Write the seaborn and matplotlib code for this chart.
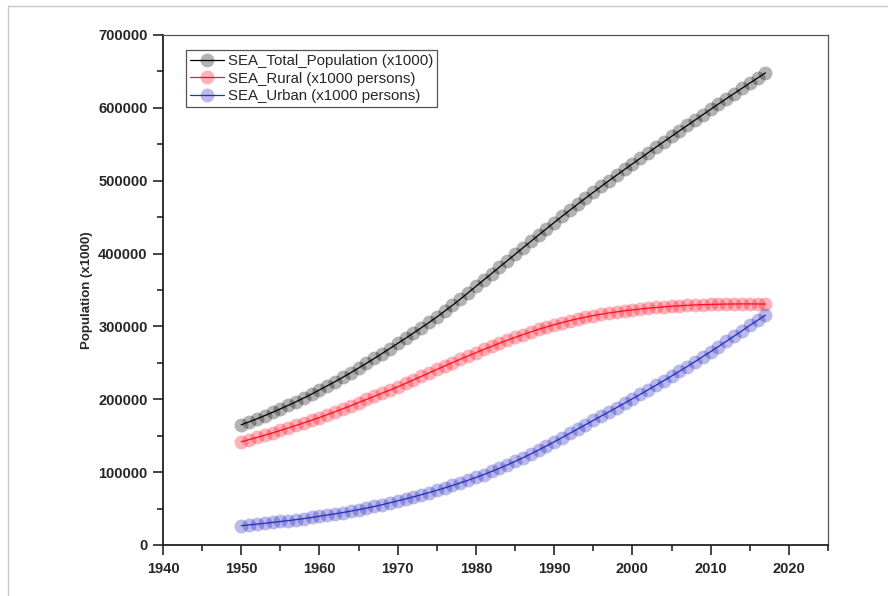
import matplotlib
matplotlib.use("Agg")
import matplotlib.pyplot as plt
from matplotlib.lines import Line2D
from matplotlib.ticker import MultipleLocator
import seaborn as sns
import pandas as pd

years = list(range(1950, 2018))

total = [165000, 169000, 173200, 177600, 182100, 186800, 191600, 196600, 201800, 207200,
         212800, 218500, 224300, 230300, 236500, 242900, 249400, 256000, 262800, 269700,
         276700, 283700, 290800, 298000, 305400, 313000, 320900, 329000, 337500, 346200,
         355000, 363800, 372600, 381400, 390200, 399000, 407800, 416600, 425300, 434000,
         442600, 451100, 459500, 467800, 476000, 484100, 492100, 500000, 507800, 515500,
         523100, 530700, 538300, 545900, 553400, 560900, 568400, 575800, 583200, 590600,
         598000, 605300, 612500, 619700, 626800, 633900, 641000, 648000]

rural = [141700, 144600, 147600, 150700, 153900, 157200, 160600, 164100, 167700, 171300,
         175000, 178900, 182900, 187000, 191200, 195500, 199800, 204100, 208400, 212700,
         217000, 221800, 226600, 231400, 236200, 241000, 245700, 250400, 255000, 259500,
         264000, 268400, 272700, 276900, 281000, 285000, 288800, 292500, 296000, 299300,
         302400, 305300, 308000, 310500, 312800, 314900, 316800, 318500, 320000, 321400,
         322700, 323900, 325000, 326000, 326900, 327700, 328400, 329000, 329500, 329900,
         330200, 330500, 330700, 330800, 330900, 330900, 330800, 330700]

urban = [26500, 27600, 28700, 29800, 31000, 32300, 33500, 34800, 36200, 37800,
         39500, 41100, 42800, 44600, 46500, 48500, 50600, 52900, 55300, 57900,
         60600, 63300, 66100, 69000, 72000, 75100, 78300, 81700, 85200, 88900,
         92700, 96700, 100900, 105300, 109900, 114700, 119700, 124900, 130300, 135900,
         141600, 147400, 153300, 159200, 165100, 171000, 176900, 182800, 188700, 194700,
         200700, 206800, 213000, 219200, 225500, 231900, 238400, 245000, 251700, 258500,
         265400, 272400, 279500, 286700, 294000, 301400, 308400, 315400]

labels = ["SEA_Total_Population (x1000)", "SEA_Rural (x1000 persons)", "SEA_Urban (x1000 persons)"]
line_colors = ["#000000", "#ff1a1a", "#2035b0"]
face_colors = [(0.0, 0.0, 0.0, 0.30), (1.0, 0.0, 0.1, 0.30), (0.15, 0.15, 0.75, 0.32)]

sns.set_style("ticks")
plt.rcParams["font.family"] = ["Liberation Sans", "DejaVu Sans"]

fig = plt.figure(figsize=(8.88, 5.96), dpi=100)
ax = fig.add_axes([163/888, 1-545/596, (828-163)/888, (545-35)/596])

for vals, lab, lc, fc in zip([total, rural, urban], labels, line_colors, face_colors):
    df = pd.DataFrame({"Year": years, "Value": vals})
    sns.lineplot(data=df, x="Year", y="Value", ax=ax, color=lc, linewidth=0.9,
                 marker="o", markersize=10, markerfacecolor=fc, markeredgewidth=0,
                 label=lab)

ax.set_xlim(1940, 2025)
ax.set_ylim(0, 700000)
ax.xaxis.set_major_locator(MultipleLocator(10))
ax.xaxis.set_minor_locator(MultipleLocator(5))
ax.yaxis.set_major_locator(MultipleLocator(100000))
ax.yaxis.set_minor_locator(MultipleLocator(50000))
ax.tick_params(which="major", direction="out", length=7, width=1.2, top=False, right=False)
ax.tick_params(which="minor", direction="out", length=4, width=1.2, top=False, right=False)
ax.tick_params(axis="x", labelsize=10.5, pad=5)
ax.tick_params(axis="y", labelsize=10.5, pad=4)
for lbl in ax.get_xticklabels() + ax.get_yticklabels():
    lbl.set_fontweight("bold")
ax.set_xlabel("")
ax.set_ylabel("Population (x1000)", fontsize=9.5, fontweight="bold", labelpad=4)

for side in ["left", "bottom"]:
    ax.spines[side].set_linewidth(1.3)
    ax.spines[side].set_color("#222222")
for side in ["top", "right"]:
    ax.spines[side].set_linewidth(0.9)
    ax.spines[side].set_color("#555555")

leg = ax.legend(loc="upper left", bbox_to_anchor=(23/665, 1-15/510), fontsize=10.8,
                frameon=True, fancybox=False, edgecolor="#555555", framealpha=1,
                borderpad=0.25, handlelength=2.3, handletextpad=0.25, labelspacing=0.25,
                borderaxespad=0)
leg.get_frame().set_linewidth(0.9)

fig.add_artist(Line2D([8/888, 8/888], [0, 1-6/596], color="#c8c8c8", lw=1, transform=fig.transFigure))
fig.add_artist(Line2D([8/888, 1], [1-6/596, 1-6/596], color="#c8c8c8", lw=1, transform=fig.transFigure))

fig.savefig("out.png", dpi=100)
